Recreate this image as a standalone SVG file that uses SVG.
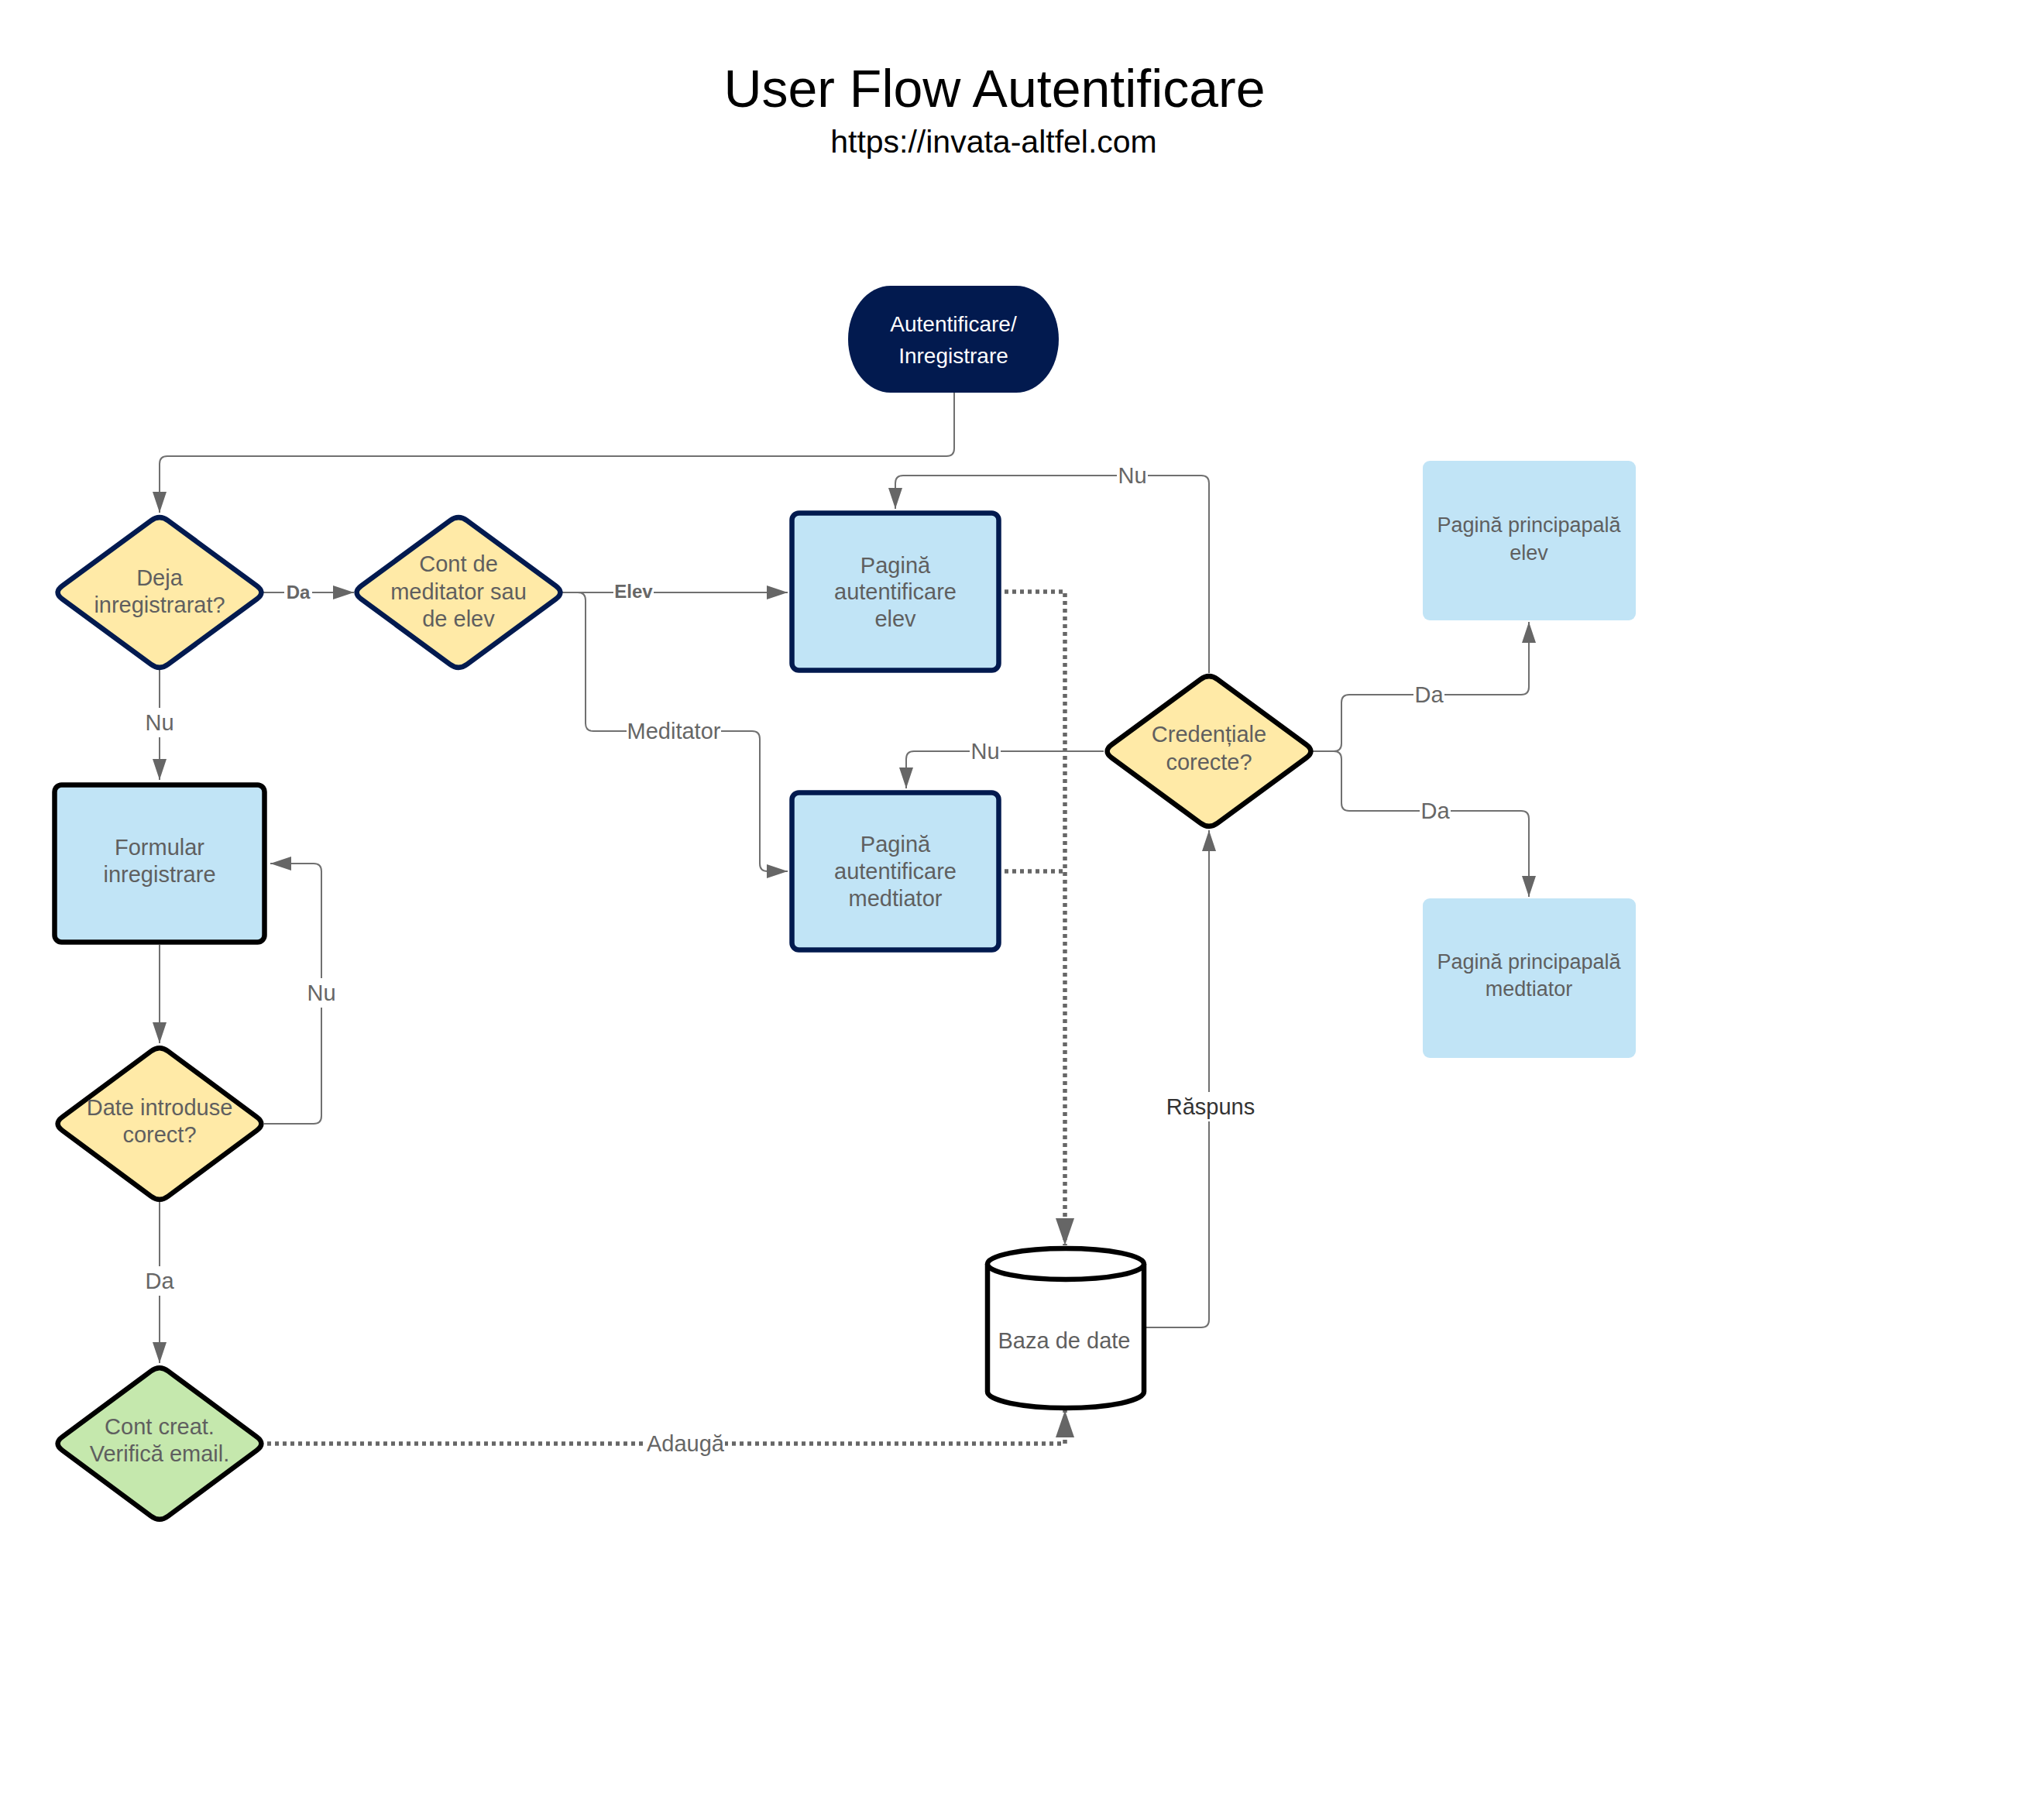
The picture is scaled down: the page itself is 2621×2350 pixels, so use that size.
<svg xmlns="http://www.w3.org/2000/svg" width="2621" height="2350" viewBox="0 0 2621 2350">
<style>
text{font-family:"Liberation Sans",Arial,sans-serif;}
.title{font-size:68px;fill:#000;text-anchor:middle;}
.sub{font-size:41px;fill:#000;text-anchor:middle;}
.nt{font-size:29px;fill:#5f5f5f;text-anchor:middle;}
.nt27{font-size:27px;fill:#5f5f5f;text-anchor:middle;}
.wt{font-size:28px;fill:#ffffff;text-anchor:middle;}
.lbl{font-size:29px;fill:#666666;text-anchor:middle;}
.lblb{font-size:24px;fill:#666666;text-anchor:middle;font-weight:bold;}
.lbld{font-size:29px;fill:#333333;text-anchor:middle;}
.yel{fill:#FFEAA7;stroke:#021A4F;stroke-width:6.5;stroke-linejoin:round;}
.yelk{fill:#FFEAA7;stroke:#000;stroke-width:6.5;stroke-linejoin:round;}
.grn{fill:#C5E8AD;stroke:#000;stroke-width:6.5;stroke-linejoin:round;}
.blu{fill:#C1E4F6;stroke:#021A4F;stroke-width:6.5;}
.bluk{fill:#C1E4F6;stroke:#000;stroke-width:6.5;}
.blun{fill:#C1E4F6;}
.ln{fill:none;stroke:#707070;stroke-width:2;}
.dot{fill:none;stroke:#666666;stroke-width:5.5;stroke-dasharray:5 5;}
.bg{fill:#ffffff;}
</style>
<defs>
<marker id="ar" markerUnits="userSpaceOnUse" markerWidth="28" markerHeight="20" refX="27" refY="9" orient="auto">
<path d="M0,0 L27,9 L0,18 z" fill="#666666"/>
</marker>
<marker id="ard" markerUnits="userSpaceOnUse" markerWidth="36" markerHeight="26" refX="35" refY="12" orient="auto">
<path d="M0,0 L35,12 L0,24 z" fill="#666666"/>
</marker>
</defs>
<rect width="2621" height="2350" fill="#ffffff"/>
<text class="title" x="1284" y="138">User Flow Autentificare</text>
<text class="sub" x="1283" y="197">https://invata-altfel.com</text>

<g id="connectors">
<path class="ln" d="M1232 507 V579 Q1232 589 1222 589 H216 Q206 589 206 599 V662" marker-end="url(#ar)"/>
<path class="ln" d="M338 765 H457" marker-end="url(#ar)"/>
<path class="ln" d="M206 865 V1007" marker-end="url(#ar)"/>
<path class="ln" d="M725 765 H1017" marker-end="url(#ar)"/>
<path class="ln" d="M725 765 H746 Q756 765 756 775 V934 Q756 944 766 944 H971 Q981 944 981 954 V1115 Q981 1125 991 1125 H1017" marker-end="url(#ar)"/>
<path class="ln" d="M206 1220 V1347" marker-end="url(#ar)"/>
<path class="ln" d="M341 1451 H405 Q415 1451 415 1441 V1125 Q415 1115 405 1115 H349" marker-end="url(#ar)"/>
<path class="ln" d="M206 1552 V1760" marker-end="url(#ar)"/>
<path class="dot" d="M345 1864 H1375 V1821" marker-end="url(#ard)"/>
<path class="dot" d="M1297 764 H1375 V1608" marker-end="url(#ard)"/>
<path class="dot" d="M1297 1125 H1375"/>
<path class="ln" d="M1480 1714 H1551 Q1561 1714 1561 1704 V1072" marker-end="url(#ar)"/>
<path class="ln" d="M1561 869 V624 Q1561 614 1551 614 H1166 Q1156 614 1156 624 V657" marker-end="url(#ar)"/>
<path class="ln" d="M1425 970 H1180 Q1170 970 1170 980 V1018" marker-end="url(#ar)"/>
<path class="ln" d="M1695 970 H1722 Q1732 970 1732 960 V907 Q1732 897 1742 897 H1964 Q1974 897 1974 887 V803" marker-end="url(#ar)"/>
<path class="ln" d="M1695 970 H1722 Q1732 970 1732 980 V1037 Q1732 1047 1742 1047 H1964 Q1974 1047 1974 1057 V1158" marker-end="url(#ar)"/>
<g id="labels">
<rect class="bg" x="367" y="752" width="36" height="26"/><text class="lblb" x="385" y="773">Da</text>
<rect class="bg" x="184" y="914" width="44" height="38"/><text class="lbl" x="206" y="943">Nu</text>
<rect class="bg" x="792" y="751" width="52" height="28"/><text class="lblb" x="818" y="772">Elev</text>
<rect class="bg" x="809" y="929" width="122" height="30"/><text class="lbl" x="870" y="954">Meditator</text>
<rect class="bg" x="393" y="1263" width="44" height="38"/><text class="lbl" x="415" y="1292">Nu</text>
<rect class="bg" x="184" y="1635" width="44" height="38"/><text class="lbl" x="206" y="1664">Da</text>
<rect class="bg" x="834" y="1849" width="102" height="30"/><text class="lbl" x="885" y="1874">Adaugă</text>
<rect class="bg" x="1504" y="1410" width="118" height="38"/><text class="lbld" x="1563" y="1439">Răspuns</text>
<rect class="bg" x="1442" y="599" width="40" height="30"/><text class="lbl" x="1462" y="624">Nu</text>
<rect class="bg" x="1252" y="955" width="40" height="30"/><text class="lbl" x="1272" y="980">Nu</text>
<rect class="bg" x="1825" y="882" width="40" height="30"/><text class="lbl" x="1845" y="907">Da</text>
<rect class="bg" x="1833" y="1032" width="40" height="30"/><text class="lbl" x="1853" y="1057">Da</text>
</g>
</g>

<g id="start">
<rect x="1095" y="369" width="272" height="138" rx="55" ry="69" fill="#021A4F"/>
<text class="wt" x="1231" y="428">Autentificare/</text>
<text class="wt" x="1231" y="469">Inregistrare</text>
</g>
<g id="deja">
<path class="yel" d="M217.2,672.4 L331.8,756.6 Q343,765 331.8,773.4 L217.2,857.6 Q206,866 194.8,857.6 L80.2,773.4 Q69,765 80.2,756.6 L194.8,672.4 Q206,664 217.2,672.4 Z"/>
<text class="nt" x="206" y="756">Deja</text>
<text class="nt" x="206" y="791">inregistrarat?</text>
</g>
<g id="cont-tip">
<path class="yel" d="M603.2,672.4 L717.8,756.6 Q729,765 717.8,773.4 L603.2,857.6 Q592,866 580.8,857.6 L466.2,773.4 Q455,765 466.2,756.6 L580.8,672.4 Q592,664 603.2,672.4 Z"/>
<text class="nt" x="592" y="738">Cont de</text>
<text class="nt" x="592" y="774">meditator sau</text>
<text class="nt" x="592" y="809">de elev</text>
</g>
<g id="pagina-elev">
<rect class="blu" x="1022.5" y="662.5" width="267" height="203" rx="9"/>
<text class="nt" x="1156" y="740">Pagină</text>
<text class="nt" x="1156" y="774">autentificare</text>
<text class="nt" x="1156" y="809">elev</text>
</g>
<g id="pagina-meditator">
<rect class="blu" x="1022.5" y="1023.5" width="267" height="203" rx="9"/>
<text class="nt" x="1156" y="1100">Pagină</text>
<text class="nt" x="1156" y="1135">autentificare</text>
<text class="nt" x="1156" y="1170">medtiator</text>
</g>
<g id="formular">
<rect class="bluk" x="70.5" y="1013.5" width="271" height="203" rx="9"/>
<text class="nt" x="206" y="1104">Formular</text>
<text class="nt" x="206" y="1139">inregistrare</text>
</g>
<g id="date-corecte">
<path class="yelk" d="M217.2,1357.5 L331.8,1442.5 Q343,1451 331.8,1459.5 L217.2,1544.5 Q206,1553 194.8,1544.5 L80.2,1459.5 Q69,1451 80.2,1442.5 L194.8,1357.5 Q206,1349 217.2,1357.5 Z"/>
<text class="nt" x="206" y="1440">Date introduse</text>
<text class="nt" x="206" y="1475">corect?</text>
</g>
<g id="cont-creat">
<path class="grn" d="M217.2,1770.5 L331.8,1855.5 Q343,1864 331.8,1872.5 L217.2,1957.5 Q206,1966 194.8,1957.5 L80.2,1872.5 Q69,1864 80.2,1855.5 L194.8,1770.5 Q206,1762 217.2,1770.5 Z"/>
<text class="nt" x="206" y="1852">Cont creat.</text>
<text class="nt" x="206" y="1887">Verifică email.</text>
</g>
<g id="credentiale">
<path class="yelk" d="M1572.2,877.4 L1686.8,961.6 Q1698,970 1686.8,978.4 L1572.2,1062.6 Q1561,1071 1549.8,1062.6 L1435.2,978.4 Q1424,970 1435.2,961.6 L1549.8,877.4 Q1561,869 1572.2,877.4 Z"/>
<text class="nt" x="1561" y="958">Credențiale</text>
<text class="nt" x="1561" y="994">corecte?</text>
</g>
<g id="principala-elev">
<rect class="blun" x="1837" y="595" width="275" height="206" rx="9"/>
<text class="nt27" x="1974" y="687">Pagină principapală</text>
<text class="nt27" x="1974" y="723">elev</text>
</g>
<g id="principala-meditator">
<rect class="blun" x="1837" y="1160" width="275" height="206" rx="9"/>
<text class="nt27" x="1974" y="1251">Pagină principapală</text>
<text class="nt27" x="1974" y="1286">medtiator</text>
</g>
<g id="baza-de-date">
<path d="M1275 1632 V1797 A101 21 0 0 0 1477 1797 V1632" fill="#ffffff" stroke="#000" stroke-width="6.5"/>
<ellipse cx="1376" cy="1632" rx="101" ry="20" fill="#ffffff" stroke="#000" stroke-width="6.5"/>
<text class="nt" x="1374" y="1741">Baza de date</text>
</g>
</svg>
